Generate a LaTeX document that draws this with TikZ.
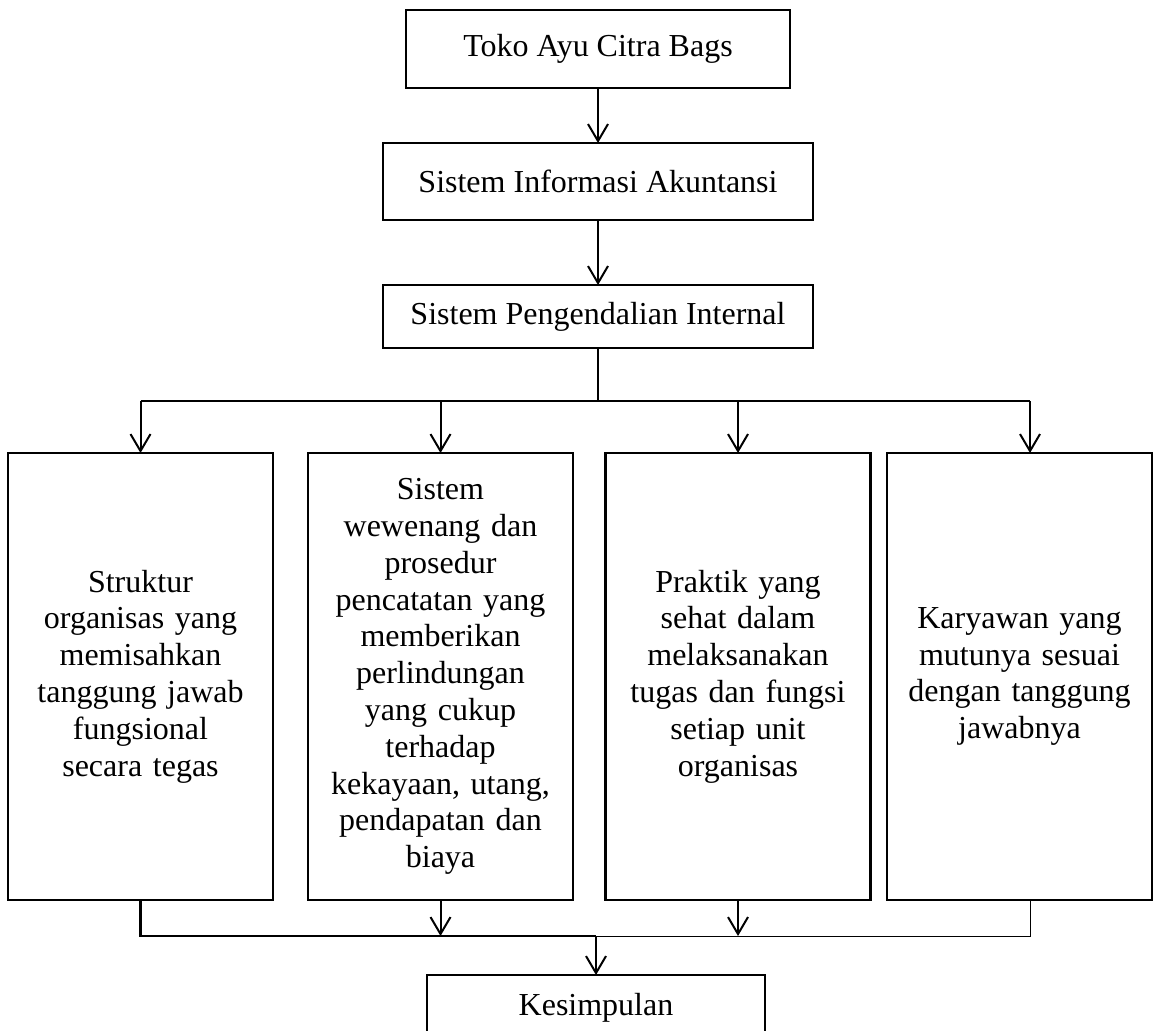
\documentclass[tikz,border=0pt]{standalone}
\usepackage{fontspec}
\setmainfont{Liberation Serif}
\usetikzlibrary{positioning,arrows.meta,calc}
\tikzset{
  fig/.style={font=\fontsize{16}{18.4}\selectfont},
  box/.style={draw,line width=1.4pt,align=center,inner sep=2pt,outer sep=0pt},
  ln/.style={-{Straight Barb[length=8.5pt,width=10pt]},line width=1pt},
  lnp/.style={line width=1.1pt},
  lnthin/.style={line width=0.5pt},
}
\begin{document}
\begin{tikzpicture}[fig,x=0.5pt,y=-0.5pt,
  topbox/.style={box,minimum width=215pt,minimum height=38.5pt},
  tallbox/.style={box,minimum width=132.5pt,minimum height=223.5pt,text width=126pt}]

\useasboundingbox (0,0) rectangle (1155,1030);

% ======================  top chain  ======================
\node[box,minimum width=192pt,minimum height=39pt] (toko) at (598,49) {Toko Ayu Citra Bags};
\node[topbox] (sia) at (598,181.5) {Sistem Informasi Akuntansi};
\node[topbox,minimum height=31.5pt] (spi) at (598,316.5) {Sistem Pengendalian Internal};

\draw[ln] (toko.south) -- (sia.north);
\draw[ln] (sia.south) -- (spi.north);

% ======================  four elements  ======================
\node[tallbox] (struk) at (140.5,676.5)
  {Struktur\\organisas yang\\memisahkan\\tanggung jawab\\fungsional\\secara tegas};
\node[tallbox] (wwn) at (440.5,676.5)
  {Sistem\\wewenang dan\\prosedur\\pencatatan yang\\memberikan\\perlindungan\\yang cukup\\terhadap\\kekayaan, utang,\\pendapatan dan\\biaya};
\node[tallbox] (prak) at (738,676.5)
  {Praktik yang\\sehat dalam\\melaksanakan\\tugas dan fungsi\\setiap unit\\organisas};
\node[tallbox] (kary) at (1019.5,676.5)
  {Karyawan yang\\mutunya sesuai\\dengan tanggung\\jawabnya};

% split from SPI
\coordinate (sp) at (598,401);
\draw[lnp] (spi.south) -- (sp);
\draw[lnp] (struk.north |- sp) -- (1030,401);
\draw[ln] (struk.north |- sp) -- (struk.north);
\draw[ln] (wwn.north |- sp) -- (wwn.north);
\draw[ln] (prak.north |- sp) -- (prak.north);
\draw[ln] (1030,401) -- (1030,453);

% ======================  conclusion  ======================
\node[box,minimum width=169pt,minimum height=33pt] (kes) at (596,1008) {Kesimpulan};

\coordinate (jn) at (596,936);
\draw[lnp] (struk.south) |- (jn);
\draw[lnthin] (jn) -| (1030,900);
\draw[ln] (wwn.south) -- (wwn.south |- jn);
\draw[ln] (prak.south) -- (prak.south |- jn);
\draw[ln] (jn) -- (kes.north);

\end{tikzpicture}
\end{document}
